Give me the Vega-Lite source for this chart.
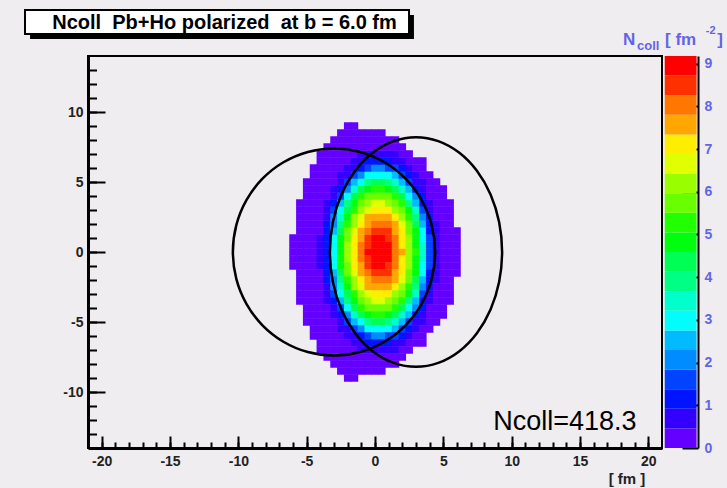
{
  "$schema": "https://vega.github.io/schema/vega-lite/v6.json",
  "width": 574,
  "height": 392,
  "autosize": "none",
  "padding": {"left": 88, "top": 56, "right": 65, "bottom": 40},
  "background": "#efedef",
  "config": {"view": {"stroke": "#000", "strokeWidth": 2}, "font": "Liberation Sans"},
  "datasets": {
    "cells": [
      {"x":-6,"y":0,"z":0.2},{"x":-5.5,"y":0,"z":0.2},{"x":-5,"y":0,"z":0.2},{"x":-4.5,"y":0,"z":0.3},{"x":-4,"y":0,"z":0.5},{"x":-3.5,"y":0,"z":1.3},{"x":-3,"y":0,"z":3},{"x":-2.5,"y":0,"z":4.8},{"x":-2,"y":0,"z":6},{"x":-1.5,"y":0,"z":7.1},{"x":-1,"y":0,"z":8},{"x":-0.5,"y":0,"z":8.8},{"x":0,"y":0,"z":9.1},{"x":0.5,"y":0,"z":9.18},{"x":1,"y":0,"z":8.9},{"x":1.5,"y":0,"z":8.2},{"x":2,"y":0,"z":7.4},{"x":2.5,"y":0,"z":6.3},{"x":3,"y":0,"z":5.1},{"x":3.5,"y":0,"z":3.4},{"x":4,"y":0,"z":1.6},{"x":4.5,"y":0,"z":0.6},{"x":5,"y":0,"z":0.3},{"x":5.5,"y":0,"z":0.2},{"x":6,"y":0,"z":0.2},

      {"x":-6,"y":0.5,"z":0.2},{"x":-5.5,"y":0.5,"z":0.2},{"x":-5,"y":0.5,"z":0.2},{"x":-4.5,"y":0.5,"z":0.3},{"x":-4,"y":0.5,"z":0.5},{"x":-3.5,"y":0.5,"z":1.3},{"x":-3,"y":0.5,"z":3},{"x":-2.5,"y":0.5,"z":4.7},{"x":-2,"y":0.5,"z":6},{"x":-1.5,"y":0.5,"z":7.1},{"x":-1,"y":0.5,"z":8},{"x":-0.5,"y":0.5,"z":8.7},{"x":0,"y":0.5,"z":9},{"x":0.5,"y":0.5,"z":9.1},{"x":1,"y":0.5,"z":8.8},{"x":1.5,"y":0.5,"z":8.1},{"x":2,"y":0.5,"z":7.3},{"x":2.5,"y":0.5,"z":6.2},{"x":3,"y":0.5,"z":5},{"x":3.5,"y":0.5,"z":3.3},{"x":4,"y":0.5,"z":1.6},{"x":4.5,"y":0.5,"z":0.6},{"x":5,"y":0.5,"z":0.3},{"x":5.5,"y":0.5,"z":0.2},{"x":6,"y":0.5,"z":0.2},
      {"x":-6,"y":-0.5,"z":0.2},{"x":-5.5,"y":-0.5,"z":0.2},{"x":-5,"y":-0.5,"z":0.2},{"x":-4.5,"y":-0.5,"z":0.3},{"x":-4,"y":-0.5,"z":0.5},{"x":-3.5,"y":-0.5,"z":1.3},{"x":-3,"y":-0.5,"z":3},{"x":-2.5,"y":-0.5,"z":4.7},{"x":-2,"y":-0.5,"z":6},{"x":-1.5,"y":-0.5,"z":7.1},{"x":-1,"y":-0.5,"z":8},{"x":-0.5,"y":-0.5,"z":8.7},{"x":0,"y":-0.5,"z":9},{"x":0.5,"y":-0.5,"z":9.1},{"x":1,"y":-0.5,"z":8.8},{"x":1.5,"y":-0.5,"z":8.1},{"x":2,"y":-0.5,"z":7.3},{"x":2.5,"y":-0.5,"z":6.2},{"x":3,"y":-0.5,"z":5},{"x":3.5,"y":-0.5,"z":3.3},{"x":4,"y":-0.5,"z":1.6},{"x":4.5,"y":-0.5,"z":0.6},{"x":5,"y":-0.5,"z":0.3},{"x":5.5,"y":-0.5,"z":0.2},{"x":6,"y":-0.5,"z":0.2},

      {"x":-6,"y":1,"z":0.2},{"x":-5.5,"y":1,"z":0.2},{"x":-5,"y":1,"z":0.2},{"x":-4.5,"y":1,"z":0.3},{"x":-4,"y":1,"z":0.5},{"x":-3.5,"y":1,"z":1.3},{"x":-3,"y":1,"z":2.8},{"x":-2.5,"y":1,"z":4.6},{"x":-2,"y":1,"z":5.9},{"x":-1.5,"y":1,"z":6.9},{"x":-1,"y":1,"z":7.8},{"x":-0.5,"y":1,"z":8.5},{"x":0,"y":1,"z":8.9},{"x":0.5,"y":1,"z":8.9},{"x":1,"y":1,"z":8.6},{"x":1.5,"y":1,"z":8},{"x":2,"y":1,"z":7.1},{"x":2.5,"y":1,"z":6.1},{"x":3,"y":1,"z":4.9},{"x":3.5,"y":1,"z":3.2},{"x":4,"y":1,"z":1.5},{"x":4.5,"y":1,"z":0.6},{"x":5,"y":1,"z":0.3},{"x":5.5,"y":1,"z":0.2},{"x":6,"y":1,"z":0.2},
      {"x":-6,"y":-1,"z":0.2},{"x":-5.5,"y":-1,"z":0.2},{"x":-5,"y":-1,"z":0.2},{"x":-4.5,"y":-1,"z":0.3},{"x":-4,"y":-1,"z":0.5},{"x":-3.5,"y":-1,"z":1.3},{"x":-3,"y":-1,"z":2.8},{"x":-2.5,"y":-1,"z":4.6},{"x":-2,"y":-1,"z":5.9},{"x":-1.5,"y":-1,"z":6.9},{"x":-1,"y":-1,"z":7.8},{"x":-0.5,"y":-1,"z":8.5},{"x":0,"y":-1,"z":8.9},{"x":0.5,"y":-1,"z":8.9},{"x":1,"y":-1,"z":8.6},{"x":1.5,"y":-1,"z":8},{"x":2,"y":-1,"z":7.1},{"x":2.5,"y":-1,"z":6.1},{"x":3,"y":-1,"z":4.9},{"x":3.5,"y":-1,"z":3.2},{"x":4,"y":-1,"z":1.5},{"x":4.5,"y":-1,"z":0.6},{"x":5,"y":-1,"z":0.3},{"x":5.5,"y":-1,"z":0.2},{"x":6,"y":-1,"z":0.2},

      {"x":-5.5,"y":1.5,"z":0.2},{"x":-5,"y":1.5,"z":0.2},{"x":-4.5,"y":1.5,"z":0.3},{"x":-4,"y":1.5,"z":0.4},{"x":-3.5,"y":1.5,"z":1.1},{"x":-3,"y":1.5,"z":2.6},{"x":-2.5,"y":1.5,"z":4.3},{"x":-2,"y":1.5,"z":5.7},{"x":-1.5,"y":1.5,"z":6.7},{"x":-1,"y":1.5,"z":7.6},{"x":-0.5,"y":1.5,"z":8.2},{"x":0,"y":1.5,"z":8.6},{"x":0.5,"y":1.5,"z":8.6},{"x":1,"y":1.5,"z":8.3},{"x":1.5,"y":1.5,"z":7.7},{"x":2,"y":1.5,"z":6.9},{"x":2.5,"y":1.5,"z":5.9},{"x":3,"y":1.5,"z":4.6},{"x":3.5,"y":1.5,"z":2.9},{"x":4,"y":1.5,"z":1.3},{"x":4.5,"y":1.5,"z":0.5},{"x":5,"y":1.5,"z":0.3},{"x":5.5,"y":1.5,"z":0.2},{"x":6,"y":1.5,"z":0.2},
      {"x":-5.5,"y":-1.5,"z":0.2},{"x":-5,"y":-1.5,"z":0.2},{"x":-4.5,"y":-1.5,"z":0.3},{"x":-4,"y":-1.5,"z":0.4},{"x":-3.5,"y":-1.5,"z":1.1},{"x":-3,"y":-1.5,"z":2.6},{"x":-2.5,"y":-1.5,"z":4.3},{"x":-2,"y":-1.5,"z":5.7},{"x":-1.5,"y":-1.5,"z":6.7},{"x":-1,"y":-1.5,"z":7.6},{"x":-0.5,"y":-1.5,"z":8.2},{"x":0,"y":-1.5,"z":8.6},{"x":0.5,"y":-1.5,"z":8.6},{"x":1,"y":-1.5,"z":8.3},{"x":1.5,"y":-1.5,"z":7.7},{"x":2,"y":-1.5,"z":6.9},{"x":2.5,"y":-1.5,"z":5.9},{"x":3,"y":-1.5,"z":4.6},{"x":3.5,"y":-1.5,"z":2.9},{"x":4,"y":-1.5,"z":1.3},{"x":4.5,"y":-1.5,"z":0.5},{"x":5,"y":-1.5,"z":0.3},{"x":5.5,"y":-1.5,"z":0.2},{"x":6,"y":-1.5,"z":0.2},

      {"x":-5.5,"y":2,"z":0.2},{"x":-5,"y":2,"z":0.2},{"x":-4.5,"y":2,"z":0.2},{"x":-4,"y":2,"z":0.4},{"x":-3.5,"y":2,"z":1},{"x":-3,"y":2,"z":2.2},{"x":-2.5,"y":2,"z":4},{"x":-2,"y":2,"z":5.4},{"x":-1.5,"y":2,"z":6.4},{"x":-1,"y":2,"z":7.2},{"x":-0.5,"y":2,"z":7.8},{"x":0,"y":2,"z":8.2},{"x":0.5,"y":2,"z":8.2},{"x":1,"y":2,"z":7.9},{"x":1.5,"y":2,"z":7.4},{"x":2,"y":2,"z":6.5},{"x":2.5,"y":2,"z":5.6},{"x":3,"y":2,"z":4.3},{"x":3.5,"y":2,"z":2.6},{"x":4,"y":2,"z":1.2},{"x":4.5,"y":2,"z":0.5},{"x":5,"y":2,"z":0.2},{"x":5.5,"y":2,"z":0.2},
      {"x":-5.5,"y":-2,"z":0.2},{"x":-5,"y":-2,"z":0.2},{"x":-4.5,"y":-2,"z":0.2},{"x":-4,"y":-2,"z":0.4},{"x":-3.5,"y":-2,"z":1},{"x":-3,"y":-2,"z":2.2},{"x":-2.5,"y":-2,"z":4},{"x":-2,"y":-2,"z":5.4},{"x":-1.5,"y":-2,"z":6.4},{"x":-1,"y":-2,"z":7.2},{"x":-0.5,"y":-2,"z":7.8},{"x":0,"y":-2,"z":8.2},{"x":0.5,"y":-2,"z":8.2},{"x":1,"y":-2,"z":7.9},{"x":1.5,"y":-2,"z":7.4},{"x":2,"y":-2,"z":6.5},{"x":2.5,"y":-2,"z":5.6},{"x":3,"y":-2,"z":4.3},{"x":3.5,"y":-2,"z":2.6},{"x":4,"y":-2,"z":1.2},{"x":4.5,"y":-2,"z":0.5},{"x":5,"y":-2,"z":0.2},{"x":5.5,"y":-2,"z":0.2},

      {"x":-5.5,"y":2.5,"z":0.2},{"x":-5,"y":2.5,"z":0.2},{"x":-4.5,"y":2.5,"z":0.2},{"x":-4,"y":2.5,"z":0.3},{"x":-3.5,"y":2.5,"z":0.8},{"x":-3,"y":2.5,"z":1.9},{"x":-2.5,"y":2.5,"z":3.5},{"x":-2,"y":2.5,"z":5},{"x":-1.5,"y":2.5,"z":6},{"x":-1,"y":2.5,"z":6.8},{"x":-0.5,"y":2.5,"z":7.4},{"x":0,"y":2.5,"z":7.7},{"x":0.5,"y":2.5,"z":7.7},{"x":1,"y":2.5,"z":7.5},{"x":1.5,"y":2.5,"z":6.9},{"x":2,"y":2.5,"z":6.1},{"x":2.5,"y":2.5,"z":5.2},{"x":3,"y":2.5,"z":3.8},{"x":3.5,"y":2.5,"z":2.2},{"x":4,"y":2.5,"z":1},{"x":4.5,"y":2.5,"z":0.4},{"x":5,"y":2.5,"z":0.2},{"x":5.5,"y":2.5,"z":0.2},
      {"x":-5.5,"y":-2.5,"z":0.2},{"x":-5,"y":-2.5,"z":0.2},{"x":-4.5,"y":-2.5,"z":0.2},{"x":-4,"y":-2.5,"z":0.3},{"x":-3.5,"y":-2.5,"z":0.8},{"x":-3,"y":-2.5,"z":1.9},{"x":-2.5,"y":-2.5,"z":3.5},{"x":-2,"y":-2.5,"z":5},{"x":-1.5,"y":-2.5,"z":6},{"x":-1,"y":-2.5,"z":6.8},{"x":-0.5,"y":-2.5,"z":7.4},{"x":0,"y":-2.5,"z":7.7},{"x":0.5,"y":-2.5,"z":7.7},{"x":1,"y":-2.5,"z":7.5},{"x":1.5,"y":-2.5,"z":6.9},{"x":2,"y":-2.5,"z":6.1},{"x":2.5,"y":-2.5,"z":5.2},{"x":3,"y":-2.5,"z":3.8},{"x":3.5,"y":-2.5,"z":2.2},{"x":4,"y":-2.5,"z":1},{"x":4.5,"y":-2.5,"z":0.4},{"x":5,"y":-2.5,"z":0.2},{"x":5.5,"y":-2.5,"z":0.2},

      {"x":-5.5,"y":3,"z":0.2},{"x":-5,"y":3,"z":0.2},{"x":-4.5,"y":3,"z":0.2},{"x":-4,"y":3,"z":0.3},{"x":-3.5,"y":3,"z":0.6},{"x":-3,"y":3,"z":1.5},{"x":-2.5,"y":3,"z":3},{"x":-2,"y":3,"z":4.4},{"x":-1.5,"y":3,"z":5.5},{"x":-1,"y":3,"z":6.2},{"x":-0.5,"y":3,"z":6.8},{"x":0,"y":3,"z":7.1},{"x":0.5,"y":3,"z":7.1},{"x":1,"y":3,"z":6.9},{"x":1.5,"y":3,"z":6.4},{"x":2,"y":3,"z":5.7},{"x":2.5,"y":3,"z":4.7},{"x":3,"y":3,"z":3.3},{"x":3.5,"y":3,"z":1.8},{"x":4,"y":3,"z":0.8},{"x":4.5,"y":3,"z":0.3},{"x":5,"y":3,"z":0.2},{"x":5.5,"y":3,"z":0.2},
      {"x":-5.5,"y":-3,"z":0.2},{"x":-5,"y":-3,"z":0.2},{"x":-4.5,"y":-3,"z":0.2},{"x":-4,"y":-3,"z":0.3},{"x":-3.5,"y":-3,"z":0.6},{"x":-3,"y":-3,"z":1.5},{"x":-2.5,"y":-3,"z":3},{"x":-2,"y":-3,"z":4.4},{"x":-1.5,"y":-3,"z":5.5},{"x":-1,"y":-3,"z":6.2},{"x":-0.5,"y":-3,"z":6.8},{"x":0,"y":-3,"z":7.1},{"x":0.5,"y":-3,"z":7.1},{"x":1,"y":-3,"z":6.9},{"x":1.5,"y":-3,"z":6.4},{"x":2,"y":-3,"z":5.7},{"x":2.5,"y":-3,"z":4.7},{"x":3,"y":-3,"z":3.3},{"x":3.5,"y":-3,"z":1.8},{"x":4,"y":-3,"z":0.8},{"x":4.5,"y":-3,"z":0.3},{"x":5,"y":-3,"z":0.2},{"x":5.5,"y":-3,"z":0.2},

      {"x":-5.5,"y":3.5,"z":0.2},{"x":-5,"y":3.5,"z":0.2},{"x":-4.5,"y":3.5,"z":0.2},{"x":-4,"y":3.5,"z":0.3},{"x":-3.5,"y":3.5,"z":0.5},{"x":-3,"y":3.5,"z":1.1},{"x":-2.5,"y":3.5,"z":2.3},{"x":-2,"y":3.5,"z":3.8},{"x":-1.5,"y":3.5,"z":4.9},{"x":-1,"y":3.5,"z":5.7},{"x":-0.5,"y":3.5,"z":6.2},{"x":0,"y":3.5,"z":6.5},{"x":0.5,"y":3.5,"z":6.5},{"x":1,"y":3.5,"z":6.3},{"x":1.5,"y":3.5,"z":5.8},{"x":2,"y":3.5,"z":5.1},{"x":2.5,"y":3.5,"z":4},{"x":3,"y":3.5,"z":2.6},{"x":3.5,"y":3.5,"z":1.3},{"x":4,"y":3.5,"z":0.5},{"x":4.5,"y":3.5,"z":0.3},{"x":5,"y":3.5,"z":0.2},{"x":5.5,"y":3.5,"z":0.2},
      {"x":-5.5,"y":-3.5,"z":0.2},{"x":-5,"y":-3.5,"z":0.2},{"x":-4.5,"y":-3.5,"z":0.2},{"x":-4,"y":-3.5,"z":0.3},{"x":-3.5,"y":-3.5,"z":0.5},{"x":-3,"y":-3.5,"z":1.1},{"x":-2.5,"y":-3.5,"z":2.3},{"x":-2,"y":-3.5,"z":3.8},{"x":-1.5,"y":-3.5,"z":4.9},{"x":-1,"y":-3.5,"z":5.7},{"x":-0.5,"y":-3.5,"z":6.2},{"x":0,"y":-3.5,"z":6.5},{"x":0.5,"y":-3.5,"z":6.5},{"x":1,"y":-3.5,"z":6.3},{"x":1.5,"y":-3.5,"z":5.8},{"x":2,"y":-3.5,"z":5.1},{"x":2.5,"y":-3.5,"z":4},{"x":3,"y":-3.5,"z":2.6},{"x":3.5,"y":-3.5,"z":1.3},{"x":4,"y":-3.5,"z":0.5},{"x":4.5,"y":-3.5,"z":0.3},{"x":5,"y":-3.5,"z":0.2},{"x":5.5,"y":-3.5,"z":0.2},

      {"x":-5,"y":4,"z":0.2},{"x":-4.5,"y":4,"z":0.2},{"x":-4,"y":4,"z":0.2},{"x":-3.5,"y":4,"z":0.4},{"x":-3,"y":4,"z":0.8},{"x":-2.5,"y":4,"z":1.7},{"x":-2,"y":4,"z":3},{"x":-1.5,"y":4,"z":4.2},{"x":-1,"y":4,"z":5.1},{"x":-0.5,"y":4,"z":5.6},{"x":0,"y":4,"z":5.8},{"x":0.5,"y":4,"z":5.8},{"x":1,"y":4,"z":5.6},{"x":1.5,"y":4,"z":5.2},{"x":2,"y":4,"z":4.4},{"x":2.5,"y":4,"z":3.2},{"x":3,"y":4,"z":2},{"x":3.5,"y":4,"z":1},{"x":4,"y":4,"z":0.4},{"x":4.5,"y":4,"z":0.2},{"x":5,"y":4,"z":0.2},
      {"x":-5,"y":-4,"z":0.2},{"x":-4.5,"y":-4,"z":0.2},{"x":-4,"y":-4,"z":0.2},{"x":-3.5,"y":-4,"z":0.4},{"x":-3,"y":-4,"z":0.8},{"x":-2.5,"y":-4,"z":1.7},{"x":-2,"y":-4,"z":3},{"x":-1.5,"y":-4,"z":4.2},{"x":-1,"y":-4,"z":5.1},{"x":-0.5,"y":-4,"z":5.6},{"x":0,"y":-4,"z":5.8},{"x":0.5,"y":-4,"z":5.8},{"x":1,"y":-4,"z":5.6},{"x":1.5,"y":-4,"z":5.2},{"x":2,"y":-4,"z":4.4},{"x":2.5,"y":-4,"z":3.2},{"x":3,"y":-4,"z":2},{"x":3.5,"y":-4,"z":1},{"x":4,"y":-4,"z":0.4},{"x":4.5,"y":-4,"z":0.2},{"x":5,"y":-4,"z":0.2},

      {"x":-5,"y":4.5,"z":0.2},{"x":-4.5,"y":4.5,"z":0.2},{"x":-4,"y":4.5,"z":0.2},{"x":-3.5,"y":4.5,"z":0.3},{"x":-3,"y":4.5,"z":0.55},{"x":-2.5,"y":4.5,"z":1.2},{"x":-2,"y":4.5,"z":2.2},{"x":-1.5,"y":4.5,"z":3.3},{"x":-1,"y":4.5,"z":4.2},{"x":-0.5,"y":4.5,"z":4.8},{"x":0,"y":4.5,"z":5.1},{"x":0.5,"y":4.5,"z":5.1},{"x":1,"y":4.5,"z":4.9},{"x":1.5,"y":4.5,"z":4.3},{"x":2,"y":4.5,"z":3.5},{"x":2.5,"y":4.5,"z":2.4},{"x":3,"y":4.5,"z":1.3},{"x":3.5,"y":4.5,"z":0.7},{"x":4,"y":4.5,"z":0.3},{"x":4.5,"y":4.5,"z":0.2},{"x":5,"y":4.5,"z":0.2},
      {"x":-5,"y":-4.5,"z":0.2},{"x":-4.5,"y":-4.5,"z":0.2},{"x":-4,"y":-4.5,"z":0.2},{"x":-3.5,"y":-4.5,"z":0.3},{"x":-3,"y":-4.5,"z":0.55},{"x":-2.5,"y":-4.5,"z":1.2},{"x":-2,"y":-4.5,"z":2.2},{"x":-1.5,"y":-4.5,"z":3.3},{"x":-1,"y":-4.5,"z":4.2},{"x":-0.5,"y":-4.5,"z":4.8},{"x":0,"y":-4.5,"z":5.1},{"x":0.5,"y":-4.5,"z":5.1},{"x":1,"y":-4.5,"z":4.9},{"x":1.5,"y":-4.5,"z":4.3},{"x":2,"y":-4.5,"z":3.5},{"x":2.5,"y":-4.5,"z":2.4},{"x":3,"y":-4.5,"z":1.3},{"x":3.5,"y":-4.5,"z":0.7},{"x":4,"y":-4.5,"z":0.3},{"x":4.5,"y":-4.5,"z":0.2},{"x":5,"y":-4.5,"z":0.2},

      {"x":-5,"y":5,"z":0.2},{"x":-4.5,"y":5,"z":0.2},{"x":-4,"y":5,"z":0.2},{"x":-3.5,"y":5,"z":0.2},{"x":-3,"y":5,"z":0.4},{"x":-2.5,"y":5,"z":0.8},{"x":-2,"y":5,"z":1.4},{"x":-1.5,"y":5,"z":2.4},{"x":-1,"y":5,"z":3.2},{"x":-0.5,"y":5,"z":3.8},{"x":0,"y":5,"z":4.2},{"x":0.5,"y":5,"z":4.2},{"x":1,"y":5,"z":3.9},{"x":1.5,"y":5,"z":3.4},{"x":2,"y":5,"z":2.6},{"x":2.5,"y":5,"z":1.6},{"x":3,"y":5,"z":0.9},{"x":3.5,"y":5,"z":0.5},{"x":4,"y":5,"z":0.3},{"x":4.5,"y":5,"z":0.2},
      {"x":-5,"y":-5,"z":0.2},{"x":-4.5,"y":-5,"z":0.2},{"x":-4,"y":-5,"z":0.2},{"x":-3.5,"y":-5,"z":0.2},{"x":-3,"y":-5,"z":0.4},{"x":-2.5,"y":-5,"z":0.8},{"x":-2,"y":-5,"z":1.4},{"x":-1.5,"y":-5,"z":2.4},{"x":-1,"y":-5,"z":3.2},{"x":-0.5,"y":-5,"z":3.8},{"x":0,"y":-5,"z":4.2},{"x":0.5,"y":-5,"z":4.2},{"x":1,"y":-5,"z":3.9},{"x":1.5,"y":-5,"z":3.4},{"x":2,"y":-5,"z":2.6},{"x":2.5,"y":-5,"z":1.6},{"x":3,"y":-5,"z":0.9},{"x":3.5,"y":-5,"z":0.5},{"x":4,"y":-5,"z":0.3},{"x":4.5,"y":-5,"z":0.2},

      {"x":-4.5,"y":5.5,"z":0.2},{"x":-4,"y":5.5,"z":0.2},{"x":-3.5,"y":5.5,"z":0.2},{"x":-3,"y":5.5,"z":0.3},{"x":-2.5,"y":5.5,"z":0.5},{"x":-2,"y":5.5,"z":0.9},{"x":-1.5,"y":5.5,"z":1.5},{"x":-1,"y":5.5,"z":2.2},{"x":-0.5,"y":5.5,"z":2.8},{"x":0,"y":5.5,"z":3.1},{"x":0.5,"y":5.5,"z":3.1},{"x":1,"y":5.5,"z":2.9},{"x":1.5,"y":5.5,"z":2.3},{"x":2,"y":5.5,"z":1.7},{"x":2.5,"y":5.5,"z":1},{"x":3,"y":5.5,"z":0.6},{"x":3.5,"y":5.5,"z":0.3},{"x":4,"y":5.5,"z":0.2},
      {"x":-4.5,"y":-5.5,"z":0.2},{"x":-4,"y":-5.5,"z":0.2},{"x":-3.5,"y":-5.5,"z":0.2},{"x":-3,"y":-5.5,"z":0.3},{"x":-2.5,"y":-5.5,"z":0.5},{"x":-2,"y":-5.5,"z":0.9},{"x":-1.5,"y":-5.5,"z":1.5},{"x":-1,"y":-5.5,"z":2.2},{"x":-0.5,"y":-5.5,"z":2.8},{"x":0,"y":-5.5,"z":3.1},{"x":0.5,"y":-5.5,"z":3.1},{"x":1,"y":-5.5,"z":2.9},{"x":1.5,"y":-5.5,"z":2.3},{"x":2,"y":-5.5,"z":1.7},{"x":2.5,"y":-5.5,"z":1},{"x":3,"y":-5.5,"z":0.6},{"x":3.5,"y":-5.5,"z":0.3},{"x":4,"y":-5.5,"z":0.2},

      {"x":-4.5,"y":6,"z":0.2},{"x":-4,"y":6,"z":0.2},{"x":-3.5,"y":6,"z":0.2},{"x":-3,"y":6,"z":0.2},{"x":-2.5,"y":6,"z":0.4},{"x":-2,"y":6,"z":0.5},{"x":-1.5,"y":6,"z":0.9},{"x":-1,"y":6,"z":1.3},{"x":-0.5,"y":6,"z":1.8},{"x":0,"y":6,"z":2},{"x":0.5,"y":6,"z":2},{"x":1,"y":6,"z":1.8},{"x":1.5,"y":6,"z":1.4},{"x":2,"y":6,"z":1},{"x":2.5,"y":6,"z":0.6},{"x":3,"y":6,"z":0.4},{"x":3.5,"y":6,"z":0.3},
      {"x":-4.5,"y":-6,"z":0.2},{"x":-4,"y":-6,"z":0.2},{"x":-3.5,"y":-6,"z":0.2},{"x":-3,"y":-6,"z":0.2},{"x":-2.5,"y":-6,"z":0.4},{"x":-2,"y":-6,"z":0.5},{"x":-1.5,"y":-6,"z":0.9},{"x":-1,"y":-6,"z":1.3},{"x":-0.5,"y":-6,"z":1.8},{"x":0,"y":-6,"z":2},{"x":0.5,"y":-6,"z":2},{"x":1,"y":-6,"z":1.8},{"x":1.5,"y":-6,"z":1.4},{"x":2,"y":-6,"z":1},{"x":2.5,"y":-6,"z":0.6},{"x":3,"y":-6,"z":0.4},{"x":3.5,"y":-6,"z":0.3},

      {"x":-4,"y":6.5,"z":0.2},{"x":-3.5,"y":6.5,"z":0.2},{"x":-3,"y":6.5,"z":0.2},{"x":-2.5,"y":6.5,"z":0.3},{"x":-2,"y":6.5,"z":0.4},{"x":-1.5,"y":6.5,"z":0.5},{"x":-1,"y":6.5,"z":0.8},{"x":-0.5,"y":6.5,"z":1},{"x":0,"y":6.5,"z":1.2},{"x":0.5,"y":6.5,"z":1.2},{"x":1,"y":6.5,"z":1.1},{"x":1.5,"y":6.5,"z":0.8},{"x":2,"y":6.5,"z":0.6},{"x":2.5,"y":6.5,"z":0.4},{"x":3,"y":6.5,"z":0.3},{"x":3.5,"y":6.5,"z":0.2},
      {"x":-4,"y":-6.5,"z":0.2},{"x":-3.5,"y":-6.5,"z":0.2},{"x":-3,"y":-6.5,"z":0.2},{"x":-2.5,"y":-6.5,"z":0.3},{"x":-2,"y":-6.5,"z":0.4},{"x":-1.5,"y":-6.5,"z":0.5},{"x":-1,"y":-6.5,"z":0.8},{"x":-0.5,"y":-6.5,"z":1},{"x":0,"y":-6.5,"z":1.2},{"x":0.5,"y":-6.5,"z":1.2},{"x":1,"y":-6.5,"z":1.1},{"x":1.5,"y":-6.5,"z":0.8},{"x":2,"y":-6.5,"z":0.6},{"x":2.5,"y":-6.5,"z":0.4},{"x":3,"y":-6.5,"z":0.3},{"x":3.5,"y":-6.5,"z":0.2},

      {"x":-4,"y":7,"z":0.2},{"x":-3.5,"y":7,"z":0.2},{"x":-3,"y":7,"z":0.2},{"x":-2.5,"y":7,"z":0.2},{"x":-2,"y":7,"z":0.3},{"x":-1.5,"y":7,"z":0.4},{"x":-1,"y":7,"z":0.5},{"x":-0.5,"y":7,"z":0.6},{"x":0,"y":7,"z":0.7},{"x":0.5,"y":7,"z":0.7},{"x":1,"y":7,"z":0.6},{"x":1.5,"y":7,"z":0.5},{"x":2,"y":7,"z":0.4},{"x":2.5,"y":7,"z":0.3},
      {"x":-4,"y":-7,"z":0.2},{"x":-3.5,"y":-7,"z":0.2},{"x":-3,"y":-7,"z":0.2},{"x":-2.5,"y":-7,"z":0.2},{"x":-2,"y":-7,"z":0.3},{"x":-1.5,"y":-7,"z":0.4},{"x":-1,"y":-7,"z":0.5},{"x":-0.5,"y":-7,"z":0.6},{"x":0,"y":-7,"z":0.7},{"x":0.5,"y":-7,"z":0.7},{"x":1,"y":-7,"z":0.6},{"x":1.5,"y":-7,"z":0.5},{"x":2,"y":-7,"z":0.4},{"x":2.5,"y":-7,"z":0.3},

      {"x":-3.5,"y":7.5,"z":0.2},{"x":-3,"y":7.5,"z":0.2},{"x":-2.5,"y":7.5,"z":0.2},{"x":-2,"y":7.5,"z":0.2},{"x":-1.5,"y":7.5,"z":0.3},{"x":-1,"y":7.5,"z":0.3},{"x":-0.5,"y":7.5,"z":0.4},{"x":0,"y":7.5,"z":0.4},{"x":0.5,"y":7.5,"z":0.4},{"x":1,"y":7.5,"z":0.4},{"x":1.5,"y":7.5,"z":0.3},{"x":2,"y":7.5,"z":0.3},
      {"x":-3.5,"y":-7.5,"z":0.2},{"x":-3,"y":-7.5,"z":0.2},{"x":-2.5,"y":-7.5,"z":0.2},{"x":-2,"y":-7.5,"z":0.2},{"x":-1.5,"y":-7.5,"z":0.3},{"x":-1,"y":-7.5,"z":0.3},{"x":-0.5,"y":-7.5,"z":0.4},{"x":0,"y":-7.5,"z":0.4},{"x":0.5,"y":-7.5,"z":0.4},{"x":1,"y":-7.5,"z":0.4},{"x":1.5,"y":-7.5,"z":0.3},{"x":2,"y":-7.5,"z":0.3},

      {"x":-3,"y":8,"z":0.2},{"x":-2.5,"y":8,"z":0.2},{"x":-2,"y":8,"z":0.2},{"x":-1.5,"y":8,"z":0.2},{"x":-1,"y":8,"z":0.2},{"x":-0.5,"y":8,"z":0.2},{"x":0,"y":8,"z":0.3},{"x":0.5,"y":8,"z":0.3},{"x":1,"y":8,"z":0.3},{"x":1.5,"y":8,"z":0.2},
      {"x":-3,"y":-8,"z":0.2},{"x":-2.5,"y":-8,"z":0.2},{"x":-2,"y":-8,"z":0.2},{"x":-1.5,"y":-8,"z":0.2},{"x":-1,"y":-8,"z":0.2},{"x":-0.5,"y":-8,"z":0.2},{"x":0,"y":-8,"z":0.3},{"x":0.5,"y":-8,"z":0.3},{"x":1,"y":-8,"z":0.3},{"x":1.5,"y":-8,"z":0.2},

      {"x":-2.5,"y":8.5,"z":0.2},{"x":-2,"y":8.5,"z":0.2},{"x":-1.5,"y":8.5,"z":0.2},{"x":-1,"y":8.5,"z":0.2},{"x":-0.5,"y":8.5,"z":0.2},{"x":0,"y":8.5,"z":0.2},{"x":0.5,"y":8.5,"z":0.2},
      {"x":-2.5,"y":-8.5,"z":0.2},{"x":-2,"y":-8.5,"z":0.2},{"x":-1.5,"y":-8.5,"z":0.2},{"x":-1,"y":-8.5,"z":0.2},{"x":-0.5,"y":-8.5,"z":0.2},{"x":0,"y":-8.5,"z":0.2},{"x":0.5,"y":-8.5,"z":0.2},

      {"x":-2,"y":9,"z":0.2},{"x":-1.5,"y":9,"z":0.2},
      {"x":-2,"y":-9,"z":0.2},{"x":-1.5,"y":-9,"z":0.2}
    ],
    "rings": [
      {"ring":"Pb","i":0,"x":4.4,"y":0},{"ring":"Pb","i":1,"x":4.148,"y":1.915},{"ring":"Pb","i":2,"x":3.408,"y":3.7},{"ring":"Pb","i":3,"x":2.233,"y":5.233},{"ring":"Pb","i":4,"x":0.7,"y":6.408},{"ring":"Pb","i":5,"x":-1.085,"y":7.148},{"ring":"Pb","i":6,"x":-3,"y":7.4},{"ring":"Pb","i":7,"x":-4.915,"y":7.148},{"ring":"Pb","i":8,"x":-6.7,"y":6.408},{"ring":"Pb","i":9,"x":-8.233,"y":5.233},{"ring":"Pb","i":10,"x":-9.408,"y":3.7},{"ring":"Pb","i":11,"x":-10.148,"y":1.915},
      {"ring":"Pb","i":12,"x":-10.4,"y":0},{"ring":"Pb","i":13,"x":-10.148,"y":-1.915},{"ring":"Pb","i":14,"x":-9.408,"y":-3.7},{"ring":"Pb","i":15,"x":-8.233,"y":-5.233},{"ring":"Pb","i":16,"x":-6.7,"y":-6.408},{"ring":"Pb","i":17,"x":-4.915,"y":-7.148},{"ring":"Pb","i":18,"x":-3,"y":-7.4},{"ring":"Pb","i":19,"x":-1.085,"y":-7.148},{"ring":"Pb","i":20,"x":0.7,"y":-6.408},{"ring":"Pb","i":21,"x":2.233,"y":-5.233},{"ring":"Pb","i":22,"x":3.408,"y":-3.7},{"ring":"Pb","i":23,"x":4.148,"y":-1.915},
      {"ring":"Ho","i":0,"x":9.3,"y":0},{"ring":"Ho","i":1,"x":9.085,"y":2.122},{"ring":"Ho","i":2,"x":8.456,"y":4.1},{"ring":"Ho","i":3,"x":7.455,"y":5.798},{"ring":"Ho","i":4,"x":6.15,"y":7.101},{"ring":"Ho","i":5,"x":4.63,"y":7.92},{"ring":"Ho","i":6,"x":3,"y":8.2},{"ring":"Ho","i":7,"x":1.37,"y":7.92},{"ring":"Ho","i":8,"x":-0.15,"y":7.101},{"ring":"Ho","i":9,"x":-1.455,"y":5.798},{"ring":"Ho","i":10,"x":-2.456,"y":4.1},{"ring":"Ho","i":11,"x":-3.085,"y":2.122},
      {"ring":"Ho","i":12,"x":-3.3,"y":0},{"ring":"Ho","i":13,"x":-3.085,"y":-2.122},{"ring":"Ho","i":14,"x":-2.456,"y":-4.1},{"ring":"Ho","i":15,"x":-1.455,"y":-5.798},{"ring":"Ho","i":16,"x":-0.15,"y":-7.101},{"ring":"Ho","i":17,"x":1.37,"y":-7.92},{"ring":"Ho","i":18,"x":3,"y":-8.2},{"ring":"Ho","i":19,"x":4.63,"y":-7.92},{"ring":"Ho","i":20,"x":6.15,"y":-7.101},{"ring":"Ho","i":21,"x":7.455,"y":-5.798},{"ring":"Ho","i":22,"x":8.456,"y":-4.1},{"ring":"Ho","i":23,"x":9.085,"y":-2.122}
    ],
    "bands": [
      {"lo":0,"hi":0.459},{"lo":0.459,"hi":0.918},{"lo":0.918,"hi":1.377},{"lo":1.377,"hi":1.836},{"lo":1.836,"hi":2.295},{"lo":2.295,"hi":2.754},{"lo":2.754,"hi":3.213},{"lo":3.213,"hi":3.672},{"lo":3.672,"hi":4.131},{"lo":4.131,"hi":4.59},
      {"lo":4.59,"hi":5.049},{"lo":5.049,"hi":5.508},{"lo":5.508,"hi":5.967},{"lo":5.967,"hi":6.426},{"lo":6.426,"hi":6.885},{"lo":6.885,"hi":7.344},{"lo":7.344,"hi":7.803},{"lo":7.803,"hi":8.262},{"lo":8.262,"hi":8.721},{"lo":8.721,"hi":9.18}
    ]
  },
  "resolve": {"scale": {"y": "independent"}, "axis": {"x": "independent", "y": "independent"}},
  "layer": [
    {
      "data": {"name": "cells"},
      "mark": {"type": "square", "size": 56, "opacity": 1, "strokeWidth": 0},
      "encoding": {
        "x": {"field": "x", "type": "quantitative", "scale": {"domain": [-21, 21], "nice": false, "zero": false},
              "axis": {"orient": "bottom", "values": [-20, -15, -10, -5, 0, 5, 10, 15, 20], "ticks": false, "domain": true, "domainColor": "#000", "domainWidth": 3, "grid": false, "title": null,
                       "labelFont": "Liberation Sans", "labelFontWeight": "bold", "labelFontSize": 14, "labelColor": "#222", "labelPadding": 6, "labelFlush": false, "labelOverlap": false, "labelBound": false, "labelExpr": "toString(datum.value)"}},
        "y": {"field": "y", "type": "quantitative", "scale": {"domain": [-14, 14], "nice": false, "zero": false},
              "axis": {"orient": "left", "values": [-10, -5, 0, 5, 10], "ticks": false, "domain": true, "domainColor": "#000", "domainWidth": 3, "grid": false, "title": null,
                       "labelFont": "Liberation Sans", "labelFontWeight": "bold", "labelFontSize": 14, "labelColor": "#222", "labelPadding": 5, "labelFlush": false, "labelOverlap": false, "labelBound": false, "labelExpr": "toString(datum.value)"}},
        "color": {"field": "z", "type": "quantitative", "legend": null,
                  "scale": {"type": "threshold",
                            "domain": [0.459, 0.918, 1.377, 1.836, 2.295, 2.754, 3.213, 3.672, 4.131, 4.59, 5.049, 5.508, 5.967, 6.426, 6.885, 7.344, 7.803, 8.262, 8.721],
                            "range": ["#6300ff", "#3300ff", "#0014ff", "#0044ff", "#008bff", "#00bbff", "#00fffc", "#00ffcc", "#00ff85", "#00ff55", "#00ff0e", "#22ff00", "#69ff00", "#99ff00", "#e0ff00", "#ffee00", "#ffa700", "#ff7700", "#ff3000", "#ff0000"]}}
      }
    },
    {
      "data": {"name": "bands"},
      "mark": {"type": "rect"},
      "encoding": {
        "x": {"datum": 21.2, "scale": {"domain": [-21, 21], "nice": false, "zero": false}, "axis": null},
        "x2": {"datum": 23.53},
        "y": {"field": "lo", "type": "quantitative", "scale": {"domain": [0, 9.18], "nice": false, "zero": false},
              "axis": {"orient": "right", "offset": 36, "values": [0, 1, 2, 3, 4, 5, 6, 7, 8, 9], "ticks": true, "tickSize": -16, "tickWidth": 2, "tickColor": "#000",
                       "domain": true, "domainColor": "#000", "domainWidth": 2, "grid": false, "title": null,
                       "labelFont": "Liberation Sans", "labelFontWeight": "bold", "labelFontSize": 14, "labelColor": "#6464e6", "labelPadding": 22, "labelFlush": false, "labelOverlap": false, "labelBound": false}},
        "y2": {"field": "hi"},
        "color": {"field": "lo", "type": "quantitative", "legend": null,
                  "scale": {"type": "threshold",
                            "domain": [0.459, 0.918, 1.377, 1.836, 2.295, 2.754, 3.213, 3.672, 4.131, 4.59, 5.049, 5.508, 5.967, 6.426, 6.885, 7.344, 7.803, 8.262, 8.721],
                            "range": ["#6300ff", "#3300ff", "#0014ff", "#0044ff", "#008bff", "#00bbff", "#00fffc", "#00ffcc", "#00ff85", "#00ff55", "#00ff0e", "#22ff00", "#69ff00", "#99ff00", "#e0ff00", "#ffee00", "#ffa700", "#ff7700", "#ff3000", "#ff0000"]}}
      }
    },
    {
      "data": {"name": "rings"},
      "mark": {"type": "line", "interpolate": "cardinal-closed", "color": "#000", "strokeWidth": 2.5},
      "encoding": {
        "x": {"field": "x", "type": "quantitative", "scale": {"domain": [-21, 21], "nice": false, "zero": false},
              "axis": {"orient": "bottom", "values": [-20, -15, -10, -5, 0, 5, 10, 15, 20], "labels": false, "domain": false, "grid": false, "title": null, "ticks": true, "tickSize": -12, "tickWidth": 2, "tickColor": "#000"}},
        "y": {"field": "y", "type": "quantitative", "scale": {"domain": [-14, 14], "nice": false, "zero": false},
              "axis": {"orient": "left", "values": [-10, -5, 0, 5, 10], "labels": false, "domain": false, "grid": false, "title": null, "ticks": true, "tickSize": -17, "tickWidth": 2, "tickColor": "#000"}},
        "detail": {"field": "ring"},
        "order": {"field": "i", "type": "quantitative"}
      }
    },
    {
      "data": {"values": [{}]},
      "mark": {"type": "rect", "color": "#000"},
      "encoding": {
        "x": {"datum": -25.24, "scale": {"domain": [-21, 21], "nice": false, "zero": false},
              "axis": {"orient": "bottom", "values": [-20, -19, -18, -17, -16, -15, -14, -13, -12, -11, -10, -9, -8, -7, -6, -5, -4, -3, -2, -1, 0, 1, 2, 3, 4, 5, 6, 7, 8, 9, 10, 11, 12, 13, 14, 15, 16, 17, 18, 19, 20], "labels": false, "domain": false, "grid": false, "title": null, "ticks": true, "tickSize": -6, "tickWidth": 2, "tickColor": "#000"}},
        "x2": {"datum": 2.85},
        "y": {"datum": 16.93, "scale": {"domain": [-14, 14], "nice": false, "zero": false},
              "axis": {"orient": "left", "values": [-13, -12, -11, -10, -9, -8, -7, -6, -5, -4, -3, -2, -1, 0, 1, 2, 3, 4, 5, 6, 7, 8, 9, 10, 11, 12, 13], "labels": false, "domain": false, "grid": false, "title": null, "ticks": true, "tickSize": -8.5, "tickWidth": 2, "tickColor": "#000"}},
        "y2": {"datum": 15.21}
      }
    },
    {
      "data": {"values": [{}]},
      "mark": {"type": "rect", "fill": "#ffffff", "stroke": "#000", "strokeWidth": 2},
      "encoding": {
        "x": {"datum": -25.61, "scale": {"domain": [-21, 21], "nice": false, "zero": false}, "axis": null},
        "x2": {"datum": 2.49},
        "y": {"datum": 17.29, "scale": {"domain": [-14, 14], "nice": false, "zero": false}, "axis": null},
        "y2": {"datum": 15.57}
      }
    },
    {
      "data": {"values": [{"label": "Ncoll\u00a0 Pb+Ho polarized\u00a0 at b = 6.0 fm"}]},
      "mark": {"type": "text", "font": "Liberation Sans", "fontWeight": "bold", "fontSize": 20, "color": "#000", "align": "center", "baseline": "alphabetic"},
      "encoding": {
        "x": {"datum": -11.01, "scale": {"domain": [-21, 21], "nice": false, "zero": false}, "axis": null},
        "y": {"datum": 15.93, "scale": {"domain": [-14, 14], "nice": false, "zero": false}, "axis": null},
        "text": {"field": "label"}
      }
    },
    {
      "data": {"values": [{"label": "Ncoll=418.3"}]},
      "mark": {"type": "text", "font": "Liberation Sans", "fontSize": 27, "color": "#000", "align": "center", "baseline": "alphabetic"},
      "encoding": {
        "x": {"datum": 13.9, "scale": {"domain": [-21, 21], "nice": false, "zero": false}, "axis": null},
        "y": {"datum": -12.71, "scale": {"domain": [-14, 14], "nice": false, "zero": false}, "axis": null},
        "text": {"field": "label"}
      }
    },
    {
      "data": {"values": [{"label": "[ fm ]"}]},
      "mark": {"type": "text", "font": "Liberation Sans", "fontWeight": "bold", "fontSize": 15, "color": "#222", "align": "center", "baseline": "alphabetic"},
      "encoding": {
        "x": {"datum": 18.44, "scale": {"domain": [-21, 21], "nice": false, "zero": false}, "axis": null},
        "y": {"datum": -16.57, "scale": {"domain": [-14, 14], "nice": false, "zero": false}, "axis": null},
        "text": {"field": "label"}
      }
    },
    {
      "data": {"values": [{"label": "N"}]},
      "mark": {"type": "text", "font": "Liberation Sans", "fontWeight": "bold", "fontSize": 17, "color": "#6464e6", "align": "left", "baseline": "alphabetic"},
      "encoding": {
        "x": {"datum": 18.15, "scale": {"domain": [-21, 21], "nice": false, "zero": false}, "axis": null},
        "y": {"datum": 14.79, "scale": {"domain": [-14, 14], "nice": false, "zero": false}, "axis": null},
        "text": {"field": "label"}
      }
    },
    {
      "data": {"values": [{"label": "coll"}]},
      "mark": {"type": "text", "font": "Liberation Sans", "fontWeight": "bold", "fontSize": 13, "color": "#6464e6", "align": "left", "baseline": "alphabetic"},
      "encoding": {
        "x": {"datum": 19.17, "scale": {"domain": [-21, 21], "nice": false, "zero": false}, "axis": null},
        "y": {"datum": 14.43, "scale": {"domain": [-14, 14], "nice": false, "zero": false}, "axis": null},
        "text": {"field": "label"}
      }
    },
    {
      "data": {"values": [{"label": "[ fm"}]},
      "mark": {"type": "text", "font": "Liberation Sans", "fontWeight": "bold", "fontSize": 17, "color": "#6464e6", "align": "left", "baseline": "alphabetic"},
      "encoding": {
        "x": {"datum": 21.22, "scale": {"domain": [-21, 21], "nice": false, "zero": false}, "axis": null},
        "y": {"datum": 14.79, "scale": {"domain": [-14, 14], "nice": false, "zero": false}, "axis": null},
        "text": {"field": "label"}
      }
    },
    {
      "data": {"values": [{"label": "-2"}]},
      "mark": {"type": "text", "font": "Liberation Sans", "fontWeight": "bold", "fontSize": 11, "color": "#6464e6", "align": "left", "baseline": "alphabetic"},
      "encoding": {
        "x": {"datum": 24.2, "scale": {"domain": [-21, 21], "nice": false, "zero": false}, "axis": null},
        "y": {"datum": 15.57, "scale": {"domain": [-14, 14], "nice": false, "zero": false}, "axis": null},
        "text": {"field": "label"}
      }
    },
    {
      "data": {"values": [{"label": "]"}]},
      "mark": {"type": "text", "font": "Liberation Sans", "fontWeight": "bold", "fontSize": 17, "color": "#6464e6", "align": "left", "baseline": "alphabetic"},
      "encoding": {
        "x": {"datum": 25.05, "scale": {"domain": [-21, 21], "nice": false, "zero": false}, "axis": null},
        "y": {"datum": 14.79, "scale": {"domain": [-14, 14], "nice": false, "zero": false}, "axis": null},
        "text": {"field": "label"}
      }
    }
  ]
}
